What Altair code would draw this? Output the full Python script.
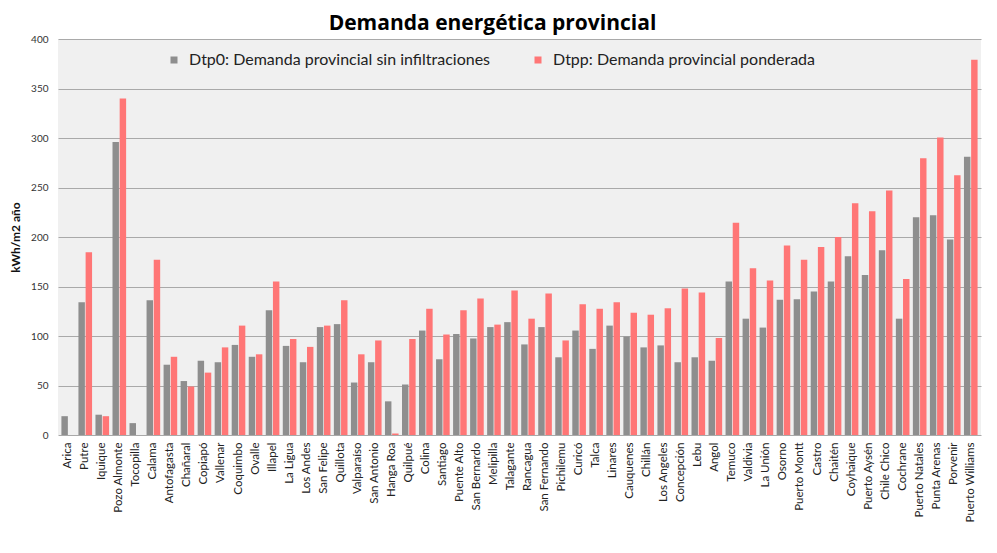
import altair as alt
import pandas as pd

provincias = [
    "Arica", "Putre", "Iquique", "Pozo Almonte", "Tocopilla", "Calama", "Antofagasta",
    "Chañaral", "Copiapó", "Vallenar", "Coquimbo", "Ovalle", "Illapel", "La Ligua",
    "Los Andes", "San Felipe", "Quillota", "Valparaíso", "San Antonio", "Hanga Roa",
    "Quilpué", "Colina", "Santiago", "Puente Alto", "San Bernardo", "Melipilla",
    "Talagante", "Rancagua", "San Fernando", "Pichilemu", "Curicó", "Talca", "Linares",
    "Cauquenes", "Chillán", "Los Angeles", "Concepción", "Lebu", "Angol", "Temuco",
    "Valdivia", "La Unión", "Osorno", "Puerto Montt", "Castro", "Chaitén", "Coyhaique",
    "Puerto Aysén", "Chile Chico", "Cochrane", "Puerto Natales", "Punta Arenas",
    "Porvenir", "Puerto Williams",
]

dtp0 = [
    19, 134, 20.5, 296, 12, 136, 71, 54.5, 75, 73.5, 91, 79, 126, 90, 73.5, 109,
    112, 53, 73.5, 34, 51, 105.5, 76.5, 102, 97.5, 109, 114, 91.5, 109, 78.5,
    105.5, 87, 110.5, 99.5, 88.5, 90.5, 73.5, 78.5, 75, 155, 117.5, 108.5, 136.5,
    137, 145, 155, 180.5, 161.5, 186.5, 117.5, 220, 222, 197.5, 281,
]

dtpp = [
    0, 184.5, 19, 340, 0, 177, 79, 49, 63, 88.5, 110.5, 81.5, 155, 97, 89, 110.5,
    136, 81.5, 95.5, 1.5, 97, 127.5, 101.5, 126, 138, 111.5, 146, 117.5, 143, 95.5,
    132, 127.5, 134, 123.5, 121.5, 128, 148, 144, 98, 214.5, 168.5, 156, 191.5,
    177, 190, 200, 234, 226, 247, 157.5, 279.5, 300.5, 262.5, 379,
]

series = [
    "Dtp0: Demanda provincial sin infiltraciones",
    "Dtpp: Demanda provincial ponderada",
]
colores = ["#8e8e8e", "#ff7676"]

rows = []
for p, a, b in zip(provincias, dtp0, dtpp):
    rows.append({"provincia": p, "serie": series[0], "valor": a})
    rows.append({"provincia": p, "serie": series[1], "valor": b})
df = pd.DataFrame(rows)

FONT = "Lato"

chart = alt.Chart(df).mark_bar().encode(
    x=alt.X(
        "provincia:N",
        sort=provincias,
        scale=alt.Scale(paddingInner=0.2, paddingOuter=0.2),
        axis=alt.Axis(
            title=None, labelAngle=-90, labelFontSize=11.5, labelColor="#222222",
            labelPadding=7, ticks=False, domain=False, labelFont=FONT,
        ),
    ),
    xOffset=alt.XOffset(
        "serie:N", scale=alt.Scale(domain=series, paddingInner=0.1)
    ),
    y=alt.Y(
        "valor:Q",
        scale=alt.Scale(domain=[0, 400], nice=False),
        axis=alt.Axis(
            title="kWh/m2 año", values=list(range(0, 401, 50)), labelFontSize=10,
            labelColor="#333333", labelPadding=10, ticks=False, domain=False,
            gridColor="#a9a9a9", gridWidth=1.2, titleFontSize=12,
            titleFontWeight="bold", titleColor="#111111", titlePadding=8,
            labelFont=FONT, titleFont=FONT,
        ),
    ),
    color=alt.Color(
        "serie:N",
        scale=alt.Scale(domain=series, range=colores),
        legend=alt.Legend(
            title=None, orient="none", legendX=108, legendY=13,
            direction="horizontal", symbolType="square", symbolSize=49,
            symbolStrokeWidth=0, labelFontSize=16, labelFont=FONT,
            labelColor="#222222", columnPadding=39, labelOffset=7, padding=0,
            labelLimit=400,
        ),
    ),
).properties(
    width=923,
    height=396,
    title=alt.TitleParams(
        "Demanda energética provincial", fontSize=21, font="Open Sans",
        fontWeight="bold", color="#000000", anchor="middle", dx=-27, offset=0,
    ),
    padding={"left": 50, "top": 31, "right": 8, "bottom": 110},
    autosize=alt.AutoSizeParams(type="none"),
).configure_view(
    fill="#f0f0f0", stroke=None
)

chart.save("out.html", embed_options={"renderer": "svg", "actions": False})
